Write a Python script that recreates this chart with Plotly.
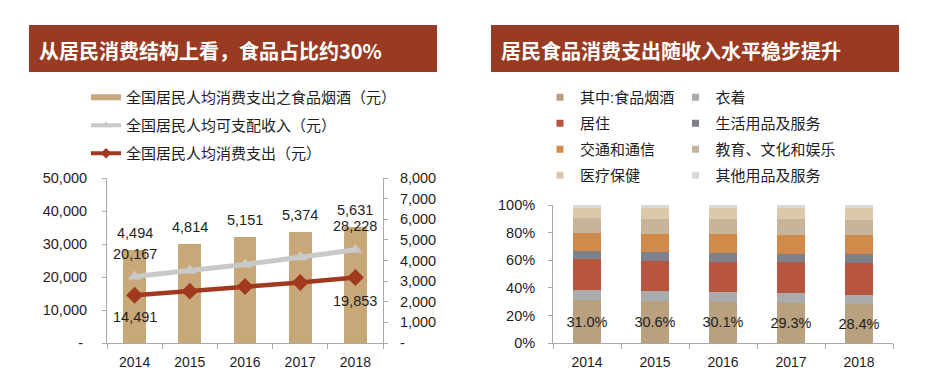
import plotly.graph_objects as go

W, H = 939, 379
OX, OY = 8, 8   # page offset of the plot div (body margin) to compensate


def px(x):
    return (x - OX) / W


def py(y):
    return 1 - (y - OY) / H


# ---------------- data ----------------
years = ["2014", "2015", "2016", "2017", "2018"]
food_spend = [4494, 4814, 5151, 5374, 5631]          # 全国居民人均消费支出之食品烟酒（元）
income = [20167, 21966, 23821, 25974, 28228]         # 全国居民人均可支配收入（元）
consumption = [14491, 15712, 17111, 18322, 19853]    # 全国居民人均消费支出（元）

left_names = ["全国居民人均消费支出之食品烟酒（元）", "全国居民人均可支配收入（元）", "全国居民人均消费支出（元）"]

struct_names = ["其中:食品烟酒", "衣着", "居住", "生活用品及服务",
                "交通和通信", "教育、文化和娱乐", "医疗保健", "其他用品及服务"]
food_share = [31.0, 30.6, 30.1, 29.3, 28.4]
clothing_share = [7.6, 7.4, 7.0, 6.8, 6.5]
housing_share = [22.1, 21.8, 21.9, 22.4, 23.4]
household_share = [6.1, 6.1, 6.1, 6.1, 6.2]
transport_share = [12.9, 13.3, 13.7, 13.6, 13.5]
education_share = [10.6, 11.0, 11.2, 11.4, 11.2]
medical_share = [7.2, 7.4, 7.6, 7.9, 8.5]
other_share = [2.6, 2.5, 2.4, 2.6, 2.4]
shares = [food_share, clothing_share, housing_share, household_share,
          transport_share, education_share, medical_share, other_share]

left_y_ticks = [0, 10000, 20000, 30000, 40000, 50000]
right_y_ticks = [0, 1000, 2000, 3000, 4000, 5000, 6000, 7000, 8000]
pct_ticks = [0, 20, 40, 60, 80, 100]

# ---------------- styles ----------------
BAR_TAN = "#C8A878"
GRAY_LINE = "#C9C9C9"
RED_LINE = "#A0391F"
TITLE_BG = "#993A22"
AXIS = "#A9A9A9"
TXT = "#1E1E1E"
struct_colors = ["#B9A07E", "#ABABAE", "#B8553F", "#80808A",
                 "#D08A4A", "#C8B498", "#DCC8AA", "#D9D9D9"]
LAT = "Liberation Sans, Arial, Noto Sans CJK SC, sans-serif"
CJK = "Liberation Sans, Noto Sans CJK SC, sans-serif"

fig = go.Figure()

# ---- left chart: legend swatches ----
fig.add_trace(go.Scatter(x=[None], y=[None], mode="lines", name=left_names[0],
                         line=dict(color=BAR_TAN, width=6), legend="legend",
                         legendgroup="a"))
fig.add_trace(go.Scatter(x=[None], y=[None], mode="lines+markers", name=left_names[1],
                         line=dict(color=GRAY_LINE, width=4),
                         marker=dict(symbol="triangle-up", size=8, color=GRAY_LINE),
                         legend="legend", legendgroup="b"))
fig.add_trace(go.Scatter(x=[None], y=[None], mode="lines+markers", name=left_names[2],
                         line=dict(color=RED_LINE, width=4),
                         marker=dict(symbol="diamond", size=8, color=RED_LINE),
                         legend="legend", legendgroup="c"))

# ---- left chart: marks ----
fig.add_trace(go.Bar(x=years, y=food_spend, xaxis="x", yaxis="y", name=left_names[0],
                     marker=dict(color=BAR_TAN, line=dict(width=0)),
                     showlegend=False))
fig.add_trace(go.Scatter(x=years, y=income, xaxis="x", yaxis="y2",
                         mode="lines+markers", name=left_names[1],
                         line=dict(color=GRAY_LINE, width=5),
                         marker=dict(symbol="triangle-up", size=12, color=GRAY_LINE),
                         showlegend=False))
fig.add_trace(go.Scatter(x=years, y=consumption, xaxis="x", yaxis="y2",
                         mode="lines+markers", name=left_names[2],
                         line=dict(color=RED_LINE, width=4.5),
                         marker=dict(symbol="diamond", size=13, color=RED_LINE),
                         showlegend=False))

# ---- right chart ----
for i, (nm, vals, col) in enumerate(zip(struct_names, shares, struct_colors)):
    kw = {}
    if i == 0:
        kw = dict(text=[f"{v:.1f}%" for v in vals], textposition="inside",
                  insidetextanchor="middle", textangle=0, constraintext="none",
                  textfont=dict(size=14.5, color=TXT, family=LAT))
    fig.add_trace(go.Bar(x=years, y=vals, xaxis="x3", yaxis="y3", name=nm,
                         marker=dict(color=col, line=dict(width=0)),
                         showlegend=False, **kw))

for i, (nm, col) in enumerate(zip(struct_names, struct_colors)):
    fig.add_trace(go.Scatter(x=[None], y=[None], mode="markers", name=nm,
                             marker=dict(symbol="square", size=7, color=col),
                             legend="legend2" if i % 2 == 0 else "legend3",
                             legendgroup=f"s{i}"))

# ---- data labels (left chart) ----
ann = []
for i, v in enumerate(food_spend):
    ann.append(dict(x=i, y=v, xref="x", yref="y", text=f"{v:,}", showarrow=False,
                    yshift=17, font=dict(size=14.5, color=TXT, family=LAT)))
ends = [0, len(years) - 1]
for k, i in enumerate(ends):
    ann.append(dict(x=i, y=income[i], xref="x", yref="y2", text=f"{income[i]:,}",
                    showarrow=False, yshift=22 if k == 0 else 24,
                    font=dict(size=14.5, color=TXT, family=LAT)))
    ann.append(dict(x=i, y=consumption[i], xref="x", yref="y2",
                    text=f"{consumption[i]:,}", showarrow=False,
                    yshift=-22 if k == 0 else -24,
                    font=dict(size=14.5, color=TXT, family=LAT)))

# ---- titles ----
ann.append(dict(x=px(37), y=py(50), xref="paper", yref="paper", xanchor="left",
                yanchor="middle", showarrow=False,
                text="<b>从居民消费结构上看，食品占比约30%</b>",
                font=dict(size=20, color="white", family="Noto Sans CJK SC, sans-serif")))
ann.append(dict(x=px(499), y=py(50), xref="paper", yref="paper", xanchor="left",
                yanchor="middle", showarrow=False,
                text="<b>居民食品消费支出随收入水平稳步提升</b>",
                font=dict(size=20, color="white", family="Noto Sans CJK SC, sans-serif")))

shapes = [
    dict(type="rect", xref="paper", yref="paper", x0=px(29), x1=px(437),
         y0=py(72), y1=py(25), fillcolor=TITLE_BG, line=dict(width=0), layer="below"),
    dict(type="rect", xref="paper", yref="paper", x0=px(491), x1=px(899),
         y0=py(72), y1=py(25), fillcolor=TITLE_BG, line=dict(width=0), layer="below"),
]

axis_common = dict(showgrid=False, zeroline=False, showline=True, linecolor=AXIS,
                   linewidth=1, ticks="outside", tickcolor=AXIS, ticklen=4,
                   tickfont=dict(size=14.5, color=TXT, family=LAT), fixedrange=True,
                   automargin=False)

legend_common = dict(xanchor="left", yanchor="top", bgcolor="rgba(0,0,0,0)",
                     borderwidth=0, orientation="v",
                     font=dict(size=15, color=TXT, family=CJK), itemclick=False,
                     itemdoubleclick=False)

fig.update_layout(
    width=W, height=H, autosize=False,
    margin=dict(l=0, r=0, t=0, b=0, pad=0, autoexpand=False),
    paper_bgcolor="white", plot_bgcolor="white",
    barmode="stack", bargap=0.59,
    showlegend=True,
    annotations=ann, shapes=shapes,
    xaxis=dict(axis_common, type="category", domain=[px(107), px(383)],
               range=[-0.5, 4.5], tickson="boundaries", ticklen=5,
               ticklabelstandoff=6, anchor="y",
               tickfont=dict(size=14, color=TXT, family=LAT)),
    yaxis=dict(axis_common, domain=[py(343), py(178)], range=[0, 8000], side="right",
               anchor="x", tickvals=right_y_ticks,
               ticktext=["-" if t == 0 else f"{t:,}" for t in right_y_ticks],
               ticklabelstandoff=9),
    yaxis2=dict(axis_common, range=[0, 50000], side="left", overlaying="y",
                anchor="x", tickvals=left_y_ticks,
                ticktext=["-\u00a0" if t == 0 else f"{t:,}" for t in left_y_ticks],
                ticklabelstandoff=12),
    xaxis3=dict(axis_common, type="category", domain=[px(553), px(893)],
                range=[-0.5, 4.5], tickson="boundaries", ticklen=5,
                ticklabelstandoff=6, anchor="y3",
                tickfont=dict(size=14, color=TXT, family=LAT)),
    yaxis3=dict(axis_common, domain=[py(343.3), py(205)], range=[0, 100],
                anchor="x3", tickvals=pct_ticks,
                ticktext=[f"{t}%" for t in pct_ticks], ticklabelstandoff=10),
    legend=dict(legend_common, x=px(86), y=py(81), tracegroupgap=5.5),
    legend2=dict(legend_common, x=px(540), y=py(81), tracegroupgap=3.5),
    legend3=dict(legend_common, x=px(675.5), y=py(81), tracegroupgap=3.5),
)

fig.write_html("out.html")
